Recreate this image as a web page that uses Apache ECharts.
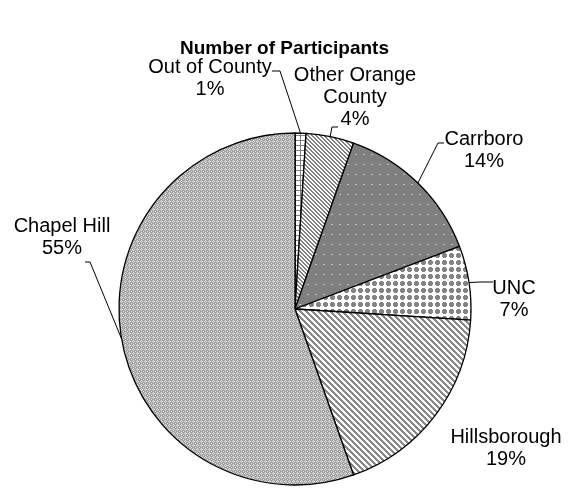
<!DOCTYPE html>
<html>
<head>
<meta charset="utf-8">
<script src="https://cdn.jsdelivr.net/npm/echarts@6/dist/echarts.min.js"></script>
<style>
html,body{margin:0;padding:0;background:#fff;}
#chart{width:569px;height:489px;}
</style>
</head>
<body>
<div id="chart"></div>
<script>
// ---- data ----
const categories = ['Out of County', 'Other Orange County', 'Carrboro', 'UNC', 'Hillsborough', 'Chapel Hill'];
const values = [1.0, 4.4, 13.8, 6.8, 18.6, 55.4];
const chartTitle = 'Number of Participants';

// ---- label layout (positions only, not data) ----
const labelCenters = [[210, 78], [355, 97], [484, 150], [514, 299], [506, 448], [62, 237]];
const labelAnchors = [[[280, 71], [272, 71]], [[332, 127], [338, 127]], [[438, 143], [444, 143]], [[480, 282], [493, 282]], null, [[90, 262], [85, 262]]];

function tile(w, h, draw) {
  const c = document.createElement('canvas');
  c.width = w; c.height = h;
  const g = c.getContext('2d');
  g.imageSmoothingEnabled = false;
  draw(g, w, h);
  return c;
}
function px(g, x, y, col) { g.fillStyle = col; g.fillRect(x, y, 1, 1); }

const patGrid = tile(5, 5, (g) => {
  g.fillStyle = '#fff'; g.fillRect(0, 0, 5, 5);
  g.fillStyle = '#808080'; g.fillRect(0, 0, 5, 1); g.fillRect(0, 0, 1, 5);
});
const patFineDiag = tile(4, 4, (g) => {
  g.fillStyle = '#fff'; g.fillRect(0, 0, 4, 4);
  for (let y = 0; y < 4; y++) for (let x = 0; x < 4; x++) {
    const m = ((x - y) % 4 + 4) % 4;
    if (m === 0 || m === 1) px(g, x, y, '#808080');
  }
});
const patDots = tile(8, 10, (g) => {
  g.fillStyle = '#7f7f7f'; g.fillRect(0, 0, 8, 10);
  g.fillStyle = '#c0c0c0'; g.fillRect(3, 4, 2, 1);
});
const patBigDots = tile(7, 7, (g) => {
  g.fillStyle = '#fff'; g.fillRect(0, 0, 7, 7);
  g.fillStyle = '#848484';
  g.fillRect(2, 1, 3, 5); g.fillRect(1, 2, 5, 3);
});
const patWideDiag = tile(6, 6, (g) => {
  g.fillStyle = '#fff'; g.fillRect(0, 0, 6, 6);
  for (let y = 0; y < 6; y++) for (let x = 0; x < 6; x++) {
    const m = ((x - y) % 6 + 6) % 6;
    if (m === 0 || m === 1 || m === 2) px(g, x, y, '#8a8a8a');
  }
});
const patWeave = tile(4, 4, (g) => {
  g.fillStyle = '#a2a2a2'; g.fillRect(0, 0, 4, 4);
  const l = '#e2e2e2';
  px(g, 1, 0, l); px(g, 0, 1, l); px(g, 2, 1, l); px(g, 1, 2, l); px(g, 3, 3, l);
});
const patterns = [patGrid, patFineDiag, patDots, patBigDots, patWideDiag, patWeave];

const seriesData = categories.map((name, i) => ({
  name: name,
  value: values[i],
  itemStyle: { color: { image: patterns[i], repeat: 'repeat' } },
  labelLine: { show: labelAnchors[i] !== null }
}));

const chart = echarts.init(document.getElementById('chart'), null, { renderer: 'canvas' });
chart.setOption({
  animation: false,
  backgroundColor: '#fff',
  title: {
    text: chartTitle,
    left: 'center',
    top: 34,
    textStyle: { fontFamily: 'Liberation Sans, Arial, sans-serif', fontWeight: 'bold', fontSize: 19, color: '#000' }
  },
  series: [{
    type: 'pie',
    silent: true,
    center: [295, 309],
    radius: 176,
    startAngle: 90,
    clockwise: true,
    avoidLabelOverlap: false,
    itemStyle: { borderColor: '#000', borderWidth: 1.3 },
    label: {
      show: true,
      position: 'outside',
      fontFamily: 'Liberation Sans, Arial, sans-serif',
      fontSize: 20,
      lineHeight: 22,
      color: '#000',
      align: 'center',
      formatter: (p) => p.name.replace('Other Orange ', 'Other Orange\n') + '\n' + Math.round(p.percent) + '%'
    },
    labelLine: { show: true, lineStyle: { color: '#000', width: 1 }, length: 10, length2: 10 },
    labelLayout: (params) => {
      const i = params.dataIndex;
      const c = labelCenters[i];
      const out = { x: c[0], y: c[1], align: 'center', verticalAlign: 'middle' };
      const a = labelAnchors[i];
      if (a && params.labelLinePoints) {
        out.labelLinePoints = [params.labelLinePoints[0], a[0], a[1]];
      }
      return out;
    },
    data: seriesData
  }]
});
</script>
</body>
</html>
